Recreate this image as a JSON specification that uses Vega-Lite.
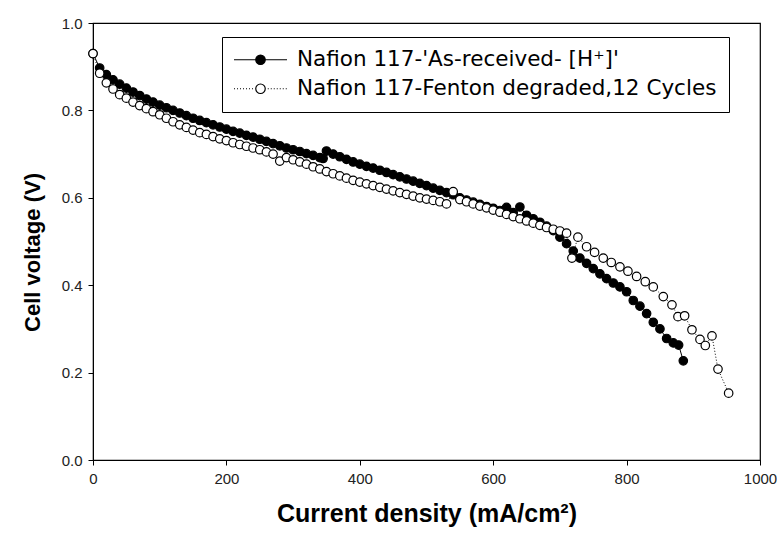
{
  "$schema": "https://vega.github.io/schema/vega-lite/v6.json",
  "width": 667,
  "height": 437,
  "padding": {"left": 93, "top": 23, "right": 17, "bottom": 86},
  "autosize": {"type": "none"},
  "background": "white",
  "config": {
    "font": "Liberation Sans",
    "view": {"stroke": "black", "strokeWidth": 1.2}
  },
  "data": {"values": [
      {"s": "A", "x": 0, "v": 0.930}, {"s": "A", "x": 10, "v": 0.897}, {"s": "A", "x": 20, "v": 0.882}, {"s": "A", "x": 30, "v": 0.870}, {"s": "A", "x": 40, "v": 0.860},
      {"s": "A", "x": 50, "v": 0.851}, {"s": "A", "x": 60, "v": 0.842}, {"s": "A", "x": 70, "v": 0.834}, {"s": "A", "x": 80, "v": 0.826}, {"s": "A", "x": 90, "v": 0.819},
      {"s": "A", "x": 100, "v": 0.812}, {"s": "A", "x": 110, "v": 0.806}, {"s": "A", "x": 120, "v": 0.800}, {"s": "A", "x": 130, "v": 0.794}, {"s": "A", "x": 140, "v": 0.788},
      {"s": "A", "x": 150, "v": 0.782}, {"s": "A", "x": 160, "v": 0.777}, {"s": "A", "x": 170, "v": 0.772}, {"s": "A", "x": 180, "v": 0.767}, {"s": "A", "x": 190, "v": 0.762},
      {"s": "A", "x": 200, "v": 0.757}, {"s": "A", "x": 210, "v": 0.752}, {"s": "A", "x": 220, "v": 0.748}, {"s": "A", "x": 230, "v": 0.743}, {"s": "A", "x": 240, "v": 0.739},
      {"s": "A", "x": 250, "v": 0.734}, {"s": "A", "x": 260, "v": 0.729}, {"s": "A", "x": 270, "v": 0.724}, {"s": "A", "x": 280, "v": 0.719}, {"s": "A", "x": 290, "v": 0.714},
      {"s": "A", "x": 300, "v": 0.710}, {"s": "A", "x": 310, "v": 0.706}, {"s": "A", "x": 320, "v": 0.701}, {"s": "A", "x": 330, "v": 0.697}, {"s": "A", "x": 340, "v": 0.692},
      {"s": "A", "x": 345, "v": 0.690}, {"s": "A", "x": 350, "v": 0.707}, {"s": "A", "x": 360, "v": 0.700}, {"s": "A", "x": 370, "v": 0.694}, {"s": "A", "x": 380, "v": 0.688},
      {"s": "A", "x": 390, "v": 0.682}, {"s": "A", "x": 400, "v": 0.677}, {"s": "A", "x": 410, "v": 0.672}, {"s": "A", "x": 420, "v": 0.668}, {"s": "A", "x": 430, "v": 0.663},
      {"s": "A", "x": 440, "v": 0.658}, {"s": "A", "x": 450, "v": 0.653}, {"s": "A", "x": 460, "v": 0.648}, {"s": "A", "x": 470, "v": 0.643}, {"s": "A", "x": 480, "v": 0.638},
      {"s": "A", "x": 490, "v": 0.633}, {"s": "A", "x": 500, "v": 0.628}, {"s": "A", "x": 510, "v": 0.622}, {"s": "A", "x": 520, "v": 0.617}, {"s": "A", "x": 530, "v": 0.612},
      {"s": "A", "x": 540, "v": 0.607}, {"s": "A", "x": 550, "v": 0.600}, {"s": "A", "x": 560, "v": 0.595}, {"s": "A", "x": 570, "v": 0.590}, {"s": "A", "x": 580, "v": 0.585},
      {"s": "A", "x": 590, "v": 0.580}, {"s": "A", "x": 600, "v": 0.576}, {"s": "A", "x": 610, "v": 0.571}, {"s": "A", "x": 620, "v": 0.578}, {"s": "A", "x": 630, "v": 0.566},
      {"s": "A", "x": 640, "v": 0.579}, {"s": "A", "x": 650, "v": 0.560}, {"s": "A", "x": 660, "v": 0.552}, {"s": "A", "x": 670, "v": 0.544}, {"s": "A", "x": 680, "v": 0.535},
      {"s": "A", "x": 690, "v": 0.525}, {"s": "A", "x": 700, "v": 0.510}, {"s": "A", "x": 710, "v": 0.495}, {"s": "A", "x": 720, "v": 0.478}, {"s": "A", "x": 730, "v": 0.462},
      {"s": "A", "x": 740, "v": 0.450}, {"s": "A", "x": 750, "v": 0.438}, {"s": "A", "x": 760, "v": 0.426}, {"s": "A", "x": 770, "v": 0.415}, {"s": "A", "x": 780, "v": 0.405},
      {"s": "A", "x": 790, "v": 0.396}, {"s": "A", "x": 800, "v": 0.385}, {"s": "A", "x": 810, "v": 0.365}, {"s": "A", "x": 820, "v": 0.352}, {"s": "A", "x": 830, "v": 0.335},
      {"s": "A", "x": 840, "v": 0.315}, {"s": "A", "x": 850, "v": 0.300}, {"s": "A", "x": 860, "v": 0.278}, {"s": "A", "x": 870, "v": 0.268}, {"s": "A", "x": 878, "v": 0.263},
      {"s": "A", "x": 885, "v": 0.227},
      {"s": "B", "x": 0, "v": 0.930}, {"s": "B", "x": 10, "v": 0.885}, {"s": "B", "x": 20, "v": 0.863}, {"s": "B", "x": 30, "v": 0.849}, {"s": "B", "x": 40, "v": 0.836},
      {"s": "B", "x": 50, "v": 0.828}, {"s": "B", "x": 60, "v": 0.819}, {"s": "B", "x": 70, "v": 0.811}, {"s": "B", "x": 80, "v": 0.804}, {"s": "B", "x": 90, "v": 0.797},
      {"s": "B", "x": 100, "v": 0.790}, {"s": "B", "x": 110, "v": 0.782}, {"s": "B", "x": 120, "v": 0.774}, {"s": "B", "x": 130, "v": 0.767}, {"s": "B", "x": 140, "v": 0.761},
      {"s": "B", "x": 150, "v": 0.755}, {"s": "B", "x": 160, "v": 0.749}, {"s": "B", "x": 170, "v": 0.745}, {"s": "B", "x": 180, "v": 0.740}, {"s": "B", "x": 190, "v": 0.735},
      {"s": "B", "x": 200, "v": 0.731}, {"s": "B", "x": 210, "v": 0.726}, {"s": "B", "x": 220, "v": 0.722}, {"s": "B", "x": 230, "v": 0.718}, {"s": "B", "x": 240, "v": 0.714},
      {"s": "B", "x": 250, "v": 0.710}, {"s": "B", "x": 260, "v": 0.705}, {"s": "B", "x": 270, "v": 0.700}, {"s": "B", "x": 280, "v": 0.684}, {"s": "B", "x": 290, "v": 0.692},
      {"s": "B", "x": 300, "v": 0.687}, {"s": "B", "x": 310, "v": 0.682}, {"s": "B", "x": 320, "v": 0.677}, {"s": "B", "x": 330, "v": 0.671}, {"s": "B", "x": 340, "v": 0.666},
      {"s": "B", "x": 350, "v": 0.660}, {"s": "B", "x": 360, "v": 0.655}, {"s": "B", "x": 370, "v": 0.650}, {"s": "B", "x": 380, "v": 0.645}, {"s": "B", "x": 390, "v": 0.640},
      {"s": "B", "x": 400, "v": 0.636}, {"s": "B", "x": 410, "v": 0.632}, {"s": "B", "x": 420, "v": 0.628}, {"s": "B", "x": 430, "v": 0.624}, {"s": "B", "x": 440, "v": 0.620},
      {"s": "B", "x": 450, "v": 0.616}, {"s": "B", "x": 460, "v": 0.612}, {"s": "B", "x": 470, "v": 0.608}, {"s": "B", "x": 480, "v": 0.604}, {"s": "B", "x": 490, "v": 0.600},
      {"s": "B", "x": 500, "v": 0.597}, {"s": "B", "x": 510, "v": 0.594}, {"s": "B", "x": 520, "v": 0.591}, {"s": "B", "x": 530, "v": 0.586}, {"s": "B", "x": 540, "v": 0.614},
      {"s": "B", "x": 550, "v": 0.596}, {"s": "B", "x": 560, "v": 0.591}, {"s": "B", "x": 570, "v": 0.586}, {"s": "B", "x": 580, "v": 0.581}, {"s": "B", "x": 590, "v": 0.577},
      {"s": "B", "x": 600, "v": 0.572}, {"s": "B", "x": 610, "v": 0.567}, {"s": "B", "x": 620, "v": 0.562}, {"s": "B", "x": 630, "v": 0.557}, {"s": "B", "x": 640, "v": 0.552},
      {"s": "B", "x": 650, "v": 0.547}, {"s": "B", "x": 660, "v": 0.542}, {"s": "B", "x": 670, "v": 0.537}, {"s": "B", "x": 680, "v": 0.532}, {"s": "B", "x": 690, "v": 0.528},
      {"s": "B", "x": 700, "v": 0.524}, {"s": "B", "x": 710, "v": 0.519}, {"s": "B", "x": 718, "v": 0.462}, {"s": "B", "x": 727, "v": 0.510}, {"s": "B", "x": 740, "v": 0.488},
      {"s": "B", "x": 752, "v": 0.475}, {"s": "B", "x": 765, "v": 0.462}, {"s": "B", "x": 777, "v": 0.452}, {"s": "B", "x": 790, "v": 0.442}, {"s": "B", "x": 802, "v": 0.432},
      {"s": "B", "x": 815, "v": 0.420}, {"s": "B", "x": 828, "v": 0.408}, {"s": "B", "x": 840, "v": 0.396}, {"s": "B", "x": 855, "v": 0.374}, {"s": "B", "x": 868, "v": 0.355},
      {"s": "B", "x": 877, "v": 0.328}, {"s": "B", "x": 887, "v": 0.330}, {"s": "B", "x": 898, "v": 0.298}, {"s": "B", "x": 910, "v": 0.276}, {"s": "B", "x": 918, "v": 0.262},
      {"s": "B", "x": 928, "v": 0.284}, {"s": "B", "x": 937, "v": 0.208}, {"s": "B", "x": 953, "v": 0.153}
  ]},
  "encoding": {
    "x": {
      "field": "x", "type": "quantitative",
      "scale": {"domain": [0, 1000], "nice": false, "zero": false},
      "axis": {
        "values": [0, 200, 400, 600, 800, 1000], "format": "d", "labelFlush": false,
        "grid": false, "domainColor": "black", "tickColor": "black", "tickSize": 5,
        "labelFontSize": 15, "labelColor": "#222", "labelPadding": 6,
        "title": "Current density (mA/cm²)", "titleFontSize": 25, "titleFontWeight": "bold",
        "titleColor": "black", "titlePadding": 15
      }
    },
    "y": {
      "field": "v", "type": "quantitative",
      "scale": {"domain": [0, 1], "nice": false},
      "axis": {
        "values": [0, 0.2, 0.4, 0.6, 0.8, 1.0], "format": ".1f",
        "grid": false, "domainColor": "black", "tickColor": "black", "tickSize": 5,
        "labelFontSize": 15, "labelColor": "#222", "labelPadding": 6,
        "title": "Cell voltage (V)", "titleFontSize": 22, "titleFontWeight": "bold",
        "titleColor": "black", "titlePadding": 17, "titleY": 229
      }
    }
  },
  "layer": [
    {
      "transform": [{"filter": "datum.s === 'A'"}],
      "mark": {"type": "line", "color": "black", "strokeWidth": 1},
      "encoding": {}
    },
    {
      "transform": [{"filter": "datum.s === 'B'"}],
      "mark": {"type": "line", "color": "black", "strokeWidth": 1, "strokeDash": [1, 2]},
      "encoding": {}
    },
    {
      "mark": {"type": "point", "filled": true, "stroke": "black", "strokeWidth": 1.2, "size": 72, "opacity": 1},
      "encoding": {
        "fill": {
          "field": "s", "type": "nominal",
          "scale": {"domain": ["A", "B"], "range": ["black", "white"]},
          "legend": {
            "title": null,
            "orient": "none", "legendX": 129, "legendY": 14,
            "labelExpr": "datum.value === 'A' ? \"Nafion 117-'As-received- [H⁺]'\" : 'Nafion 117-Fenton degraded,12 Cycles'",
            "labelFont": "DejaVu Sans", "labelFontSize": 21.5, "labelColor": "black", "labelLimit": 600,
            "labelOffset": 41.5,
            "symbolType": {"expr": "datum.value === 'A' ? 'M-2.15,0H8.45M4.1,0A0.95,0.95,0,1,1,2.2,0A0.95,0.95,0,1,1,4.1,0Z' : 'M-2.15,0h0.2M-1.55,0h0.2M-0.95,0h0.2M-0.35,0h0.2M0.25,0h0.2M0.85,0h0.2M1.45,0h0.2M4.6,0h0.2M5.2,0h0.2M5.8,0h0.2M6.4,0h0.2M7,0h0.2M7.6,0h0.2M8.2,0h0.2M4.1,0A0.95,0.95,0,1,1,2.2,0A0.95,0.95,0,1,1,4.1,0Z'"},
            "symbolSize": 100, "symbolStrokeColor": "black", "symbolStrokeWidth": 1.2,
            "strokeColor": "black", "fillColor": "white", "padding": 12, "rowPadding": 6
          }
        }
      }
    }
  ]
}
